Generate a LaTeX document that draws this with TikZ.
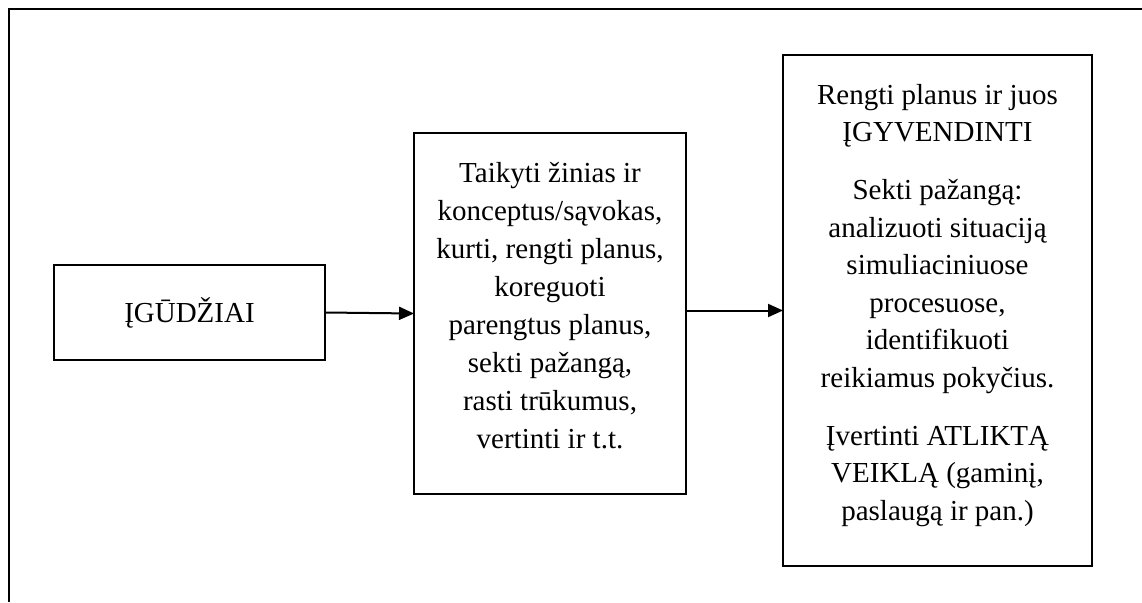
\documentclass[tikz,border=0pt]{standalone}
\usepackage{fontspec}
\setmainfont{Liberation Serif}
\usetikzlibrary{arrows.meta}

\begin{document}
\begin{tikzpicture}[x=1pt,y=-1pt,
  every node/.style={inner sep=0pt, outer sep=0pt},
  boxframe/.style={draw, rectangle, line width=1.6pt},
  boxtext/.style={align=center, anchor=north,
    font=\fontsize{29}{37.5}\selectfont},
  flow/.style={line width=2pt, -{Triangle[length=15pt,width=13pt]}}]
\useasboundingbox (0,0) rectangle (1142,602);

% outer frame (top and left edges)
\draw[line width=2.2pt] (1142,9) -- (9,9) -- (9,602);

% boxes
\node[boxframe, minimum width=271pt, minimum height=95pt,
      font=\fontsize{29}{37.5}\selectfont] (skills) at (189.5,312.5) {ĮGŪDŽIAI};
\node[boxframe, minimum width=272pt, minimum height=361pt] (apply) at (550,313.5) {};
\node[boxframe, minimum width=309pt, minimum height=511pt] (plan) at (937.5,310.5) {};

% box texts
\node[boxtext, font=\fontsize{29}{38}\selectfont] (applytext) at (550,162.2)
  {Taikyti žinias ir\\
   konceptus/sąvokas,\\
   kurti, rengti planus,\\
   koreguoti\\
   parengtus planus,\\
   sekti pažangą,\\
   rasti trūkumus,\\
   vertinti ir t.t.};
\node[boxtext] (plantext) at (937.5,84.2)
  {Rengti planus ir juos\\
   ĮGYVENDINTI\\[20.5pt]
   Sekti pažangą:\\
   analizuoti situaciją\\
   simuliaciniuose\\
   procesuose,\\
   identifikuoti\\
   reikiamus pokyčius.\\[20.5pt]
   Įvertinti ATLIKTĄ\\
   VEIKLĄ (gaminį,\\
   paslaugą ir pan.)};

% connectors
\draw[flow] (skills.east) -- (apply.west);
\draw[flow] (apply.east |- plan.west) -- (plan.west);
\end{tikzpicture}
\end{document}
